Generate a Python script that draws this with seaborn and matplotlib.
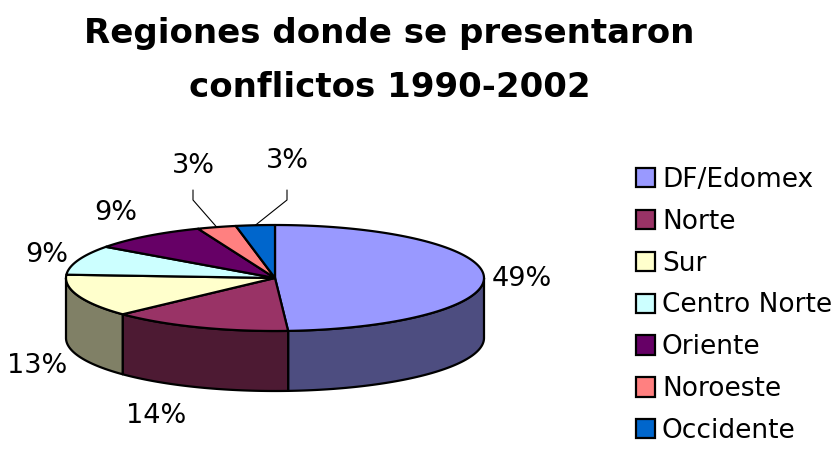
import numpy as np
import matplotlib
matplotlib.use('Agg')
import matplotlib.pyplot as plt
from matplotlib.patches import Polygon, Patch
import seaborn as sns

regions = ['DF/Edomex', 'Norte', 'Sur', 'Centro Norte', 'Oriente', 'Noroeste', 'Occidente']
shares = [49, 14, 13, 9, 9, 3, 3]
face_colors = ['#9999FF', '#993366', '#FFFFCC', '#CCFFFF', '#660066', '#FF8080', '#0066CC']
title_lines = ['Regiones donde se presentaron', 'conflictos 1990-2002']

# layout, in pixels of the 838x451 canvas
label_pos = [(522, 286), (156, 423), (37, 373), (47, 262), (116, 220), (193, 173), (287, 168)]
cx, cy, rx, ry, depth = 275, 278, 209, 53, 60

sns.set_theme(style='white')
plt.rcParams['font.family'] = ['DejaVu Sans']
plt.rcParams['text.color'] = 'black'

fig = plt.figure(figsize=(8.38, 4.51), dpi=100)
ax = fig.add_axes([0, 0, 1, 1])
ax.set_xlim(0, 838)
ax.set_ylim(451, 0)
ax.axis('off')

pal = sns.color_palette(face_colors)
side_pal = [tuple(c * 0.5 for c in col) for col in pal]

total = sum(shares)
bounds = 90 - 360 * np.concatenate([[0], np.cumsum(shares)]) / total


def ell(t, dy=0):
    t = np.radians(t)
    return np.column_stack([cx + rx * np.cos(t), cy - ry * np.sin(t) + dy])


# side walls (front half only)
for i in range(len(shares)):
    hi, lo = bounds[i], bounds[i + 1]
    a, b = max(lo, -180), min(hi, 0)
    if a < b:
        t = np.linspace(b, a, 80)
        pts = np.vstack([ell(t), ell(t[::-1], depth)])
        ax.add_patch(Polygon(pts, closed=True, fc=side_pal[i], ec='black', lw=1.6,
                             joinstyle='round'))

# top face
for i in range(len(shares)):
    t = np.linspace(bounds[i], bounds[i + 1], 120)
    pts = np.vstack([[cx, cy], ell(t)])
    ax.add_patch(Polygon(pts, closed=True, fc=pal[i], ec='black', lw=1.6,
                         joinstyle='round'))

# percentage labels
for i, s in enumerate(shares):
    lx, ly = label_pos[i]
    ax.text(lx, ly, f'{s}%', ha='center', va='baseline', fontsize=19.5, color='black')
    if s < 5:
        mid = (bounds[i] + bounds[i + 1]) / 2
        ex, ey = ell(np.array([mid]))[0]
        ax.plot([lx, lx, ex], [190, 200, ey], color='black', lw=0.8)

ax.text(389.5, 43, title_lines[0], ha='center', va='baseline', fontsize=24.5,
        fontweight='bold', color='black')
ax.text(389.5, 97, title_lines[1], ha='center', va='baseline', fontsize=24.5,
        fontweight='bold', color='black')

handles = [Patch(facecolor=pal[i], edgecolor='black', lw=1.6) for i in range(len(regions))]
leg = ax.legend(handles, regions, loc='upper left', bbox_to_anchor=(635.5, 167),
                bbox_transform=ax.transData, frameon=False, fontsize=19,
                borderpad=0, borderaxespad=0, handlelength=0.72, handleheight=0.75,
                handletextpad=0.28, labelspacing=0.6)
for t in leg.get_texts():
    t.set_color('black')

fig.savefig('out.png', dpi=100, facecolor='white')
